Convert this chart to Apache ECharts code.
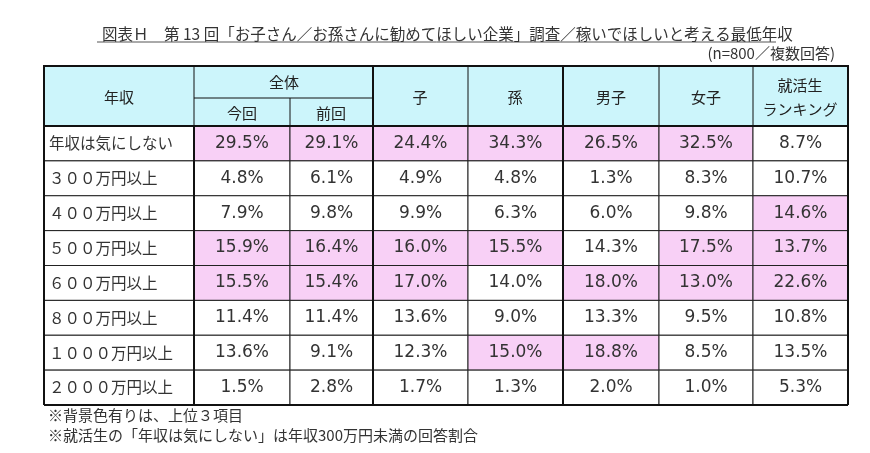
<!DOCTYPE html>
<html>
<head>
<meta charset="utf-8">
<script src="https://cdn.jsdelivr.net/npm/echarts@6/dist/echarts.min.js"></script>
<style>html,body{margin:0;background:#fff}#main{width:870px;height:453px}</style>
</head>
<body>
<div id="main"></div>
<script>
// 行ラベル
var rowLabels = ['年収は気にしない', '３００万円以上', '４００万円以上', '５００万円以上', '６００万円以上', '８００万円以上', '１０００万円以上', '２０００万円以上'];
var colLabels = ['今回', '前回', '子', '孫', '男子', '女子', '就活生ランキング'];
// 各列の値 (%)
var konkai = [29.5, 4.8, 7.9, 15.9, 15.5, 11.4, 13.6, 1.5];
var zenkai = [29.1, 6.1, 9.8, 16.4, 15.4, 11.4, 9.1, 2.8];
var ko = [24.4, 4.9, 9.9, 16.0, 17.0, 13.6, 12.3, 1.7];
var mago = [34.3, 4.8, 6.3, 15.5, 14.0, 9.0, 15.0, 1.3];
var danshi = [26.5, 1.3, 6.0, 14.3, 18.0, 13.3, 18.8, 2.0];
var joshi = [32.5, 8.3, 9.8, 17.5, 13.0, 9.5, 8.5, 1.0];
var shukatsu = [8.7, 10.7, 14.6, 13.7, 22.6, 10.8, 13.5, 5.3];
var columns = [konkai, zenkai, ko, mago, danshi, joshi, shukatsu];

// 列の境界（表内の横位置）
var edges = [0, 150, 246, 329, 424, 519, 615, 709, 804];
var HEAD = '#ccf5fb', PINK = '#f8d0f6';
var JP = '"Noto Sans CJK JP", sans-serif';
var NUM = '"DejaVu Sans", sans-serif';

var data = [];
rowLabels.forEach(function (r, i) { data.push([-1, i, r, 0]); });
columns.forEach(function (col, c) {
    var top3 = col.slice().sort(function (a, b) { return b - a; }).slice(0, 3);
    col.forEach(function (v, i) {
        data.push([c, i, v.toFixed(1) + '%', top3.indexOf(v) >= 0 ? 1 : 0]);
    });
});

var chart = echarts.init(document.getElementById('main'));
chart.setOption({
    animation: false,
    grid: {left: 44, right: 22, top: 126, bottom: 48},
    xAxis: {type: 'value', min: 0, max: 804, show: false},
    yAxis: {type: 'value', min: 0, max: 8, inverse: true, show: false},
    title: {
        text: '図表Ｈ　第 13 回「お子さん／お孫さんに勧めてほしい企業」調査／稼いでほしいと考える最低年収',
        left: 97, top: 21,
        textStyle: {fontFamily: JP, fontSize: 15.5, fontWeight: 'normal', color: '#333'}
    },
    graphic: [
        {type: 'line', shape: {x1: 97, y1: 42, x2: 776, y2: 42}, style: {stroke: '#555', lineWidth: 1}},
        {type: 'text', right: 35, top: 46, style: {text: '(n=800／複数回答)', font: '15px ' + JP, fill: '#333'}},
        // 見出し
        {type: 'rect', shape: {x: 44, y: 66, width: 804, height: 60}, style: {fill: HEAD, stroke: '#111', lineWidth: 2}},
        {type: 'line', shape: {x1: 194, y1: 66, x2: 194, y2: 126}, style: {stroke: '#111', lineWidth: 1}},
        {type: 'line', shape: {x1: 194, y1: 98, x2: 373, y2: 98}, style: {stroke: '#111', lineWidth: 1}},
        {type: 'line', shape: {x1: 290, y1: 98, x2: 290, y2: 126}, style: {stroke: '#111', lineWidth: 1}},
        {type: 'line', shape: {x1: 373, y1: 66, x2: 373, y2: 126}, style: {stroke: '#111', lineWidth: 2}},
        {type: 'line', shape: {x1: 468, y1: 66, x2: 468, y2: 126}, style: {stroke: '#111', lineWidth: 1}},
        {type: 'line', shape: {x1: 563, y1: 66, x2: 563, y2: 126}, style: {stroke: '#111', lineWidth: 2}},
        {type: 'line', shape: {x1: 659, y1: 66, x2: 659, y2: 126}, style: {stroke: '#111', lineWidth: 1}},
        {type: 'line', shape: {x1: 753, y1: 66, x2: 753, y2: 126}, style: {stroke: '#111', lineWidth: 1}},
        {type: 'text', x: 119, y: 97, style: {text: '年収', font: '15px ' + JP, fill: '#222', align: 'center', verticalAlign: 'middle'}},
        {type: 'text', x: 284, y: 82, style: {text: '全体', font: '15px ' + JP, fill: '#222', align: 'center', verticalAlign: 'middle'}},
        {type: 'text', x: 242, y: 113, style: {text: '今回', font: '15px ' + JP, fill: '#222', align: 'center', verticalAlign: 'middle'}},
        {type: 'text', x: 331, y: 113, style: {text: '前回', font: '15px ' + JP, fill: '#222', align: 'center', verticalAlign: 'middle'}},
        {type: 'text', x: 420, y: 97, style: {text: '子', font: '15px ' + JP, fill: '#222', align: 'center', verticalAlign: 'middle'}},
        {type: 'text', x: 515, y: 97, style: {text: '孫', font: '15px ' + JP, fill: '#222', align: 'center', verticalAlign: 'middle'}},
        {type: 'text', x: 611, y: 97, style: {text: '男子', font: '15px ' + JP, fill: '#222', align: 'center', verticalAlign: 'middle'}},
        {type: 'text', x: 706, y: 97, style: {text: '女子', font: '15px ' + JP, fill: '#222', align: 'center', verticalAlign: 'middle'}},
        {type: 'text', x: 800, y: 97, style: {text: '就活生\nランキング', font: '15px ' + JP, lineHeight: 24, fill: '#222', align: 'center', verticalAlign: 'middle'}},
        // 注記
        {type: 'text', x: 48, y: 415, style: {text: '※背景色有りは、上位３項目', font: '15px ' + JP, fill: '#333', verticalAlign: 'middle'}},
        {type: 'text', x: 48, y: 435, style: {text: '※就活生の「年収は気にしない」は年収300万円未満の回答割合', font: '15px ' + JP, fill: '#333', verticalAlign: 'middle'}}
    ],
    series: [{
        type: 'custom',
        data: data,
        renderItem: function (params, api) {
            var c = api.value(0), r = api.value(1);
            var x0 = c < 0 ? edges[0] : edges[c + 1], x1 = c < 0 ? edges[1] : edges[c + 2];
            var p0 = api.coord([x0, r]), p1 = api.coord([x1, r + 1]);
            var label = data[params.dataIndex][2];
            var hi = data[params.dataIndex][3];
            return {
                type: 'group',
                children: [
                    {type: 'rect', shape: {x: p0[0], y: p0[1], width: p1[0] - p0[0], height: p1[1] - p0[1]},
                        style: {fill: hi ? PINK : '#fff', stroke: '#222', lineWidth: 1}},
                    {type: 'text', x: c < 0 ? p0[0] + 5 : (p0[0] + p1[0]) / 2, y: (p0[1] + p1[1]) / 2,
                        style: {text: label, font: c < 0 ? '15.5px ' + JP : '17px ' + NUM, fill: '#333',
                            align: c < 0 ? 'left' : 'center', verticalAlign: 'middle'}}
                ]
            };
        },
        z: 2
    }, {
        // 太い区切り線と外枠
        type: 'custom',
        data: [[0], [edges[1]], [edges[3]], [edges[5]], [edges[8]], [-2], [-3]],
        renderItem: function (params, api) {
            var v = api.value(0);
            if (v === -2 || v === -3) {
                var y = v === -2 ? 0 : 8;
                var a = api.coord([0, y]), b = api.coord([804, y]);
                return {type: 'line', shape: {x1: a[0], y1: a[1], x2: b[0], y2: b[1]}, style: {stroke: '#111', lineWidth: 2}};
            }
            var p = api.coord([v, 0]), q = api.coord([v, 8]);
            return {type: 'line', shape: {x1: p[0], y1: p[1], x2: q[0], y2: q[1]}, style: {stroke: '#111', lineWidth: 2}};
        },
        z: 3
    }]
});
</script>
</body>
</html>
